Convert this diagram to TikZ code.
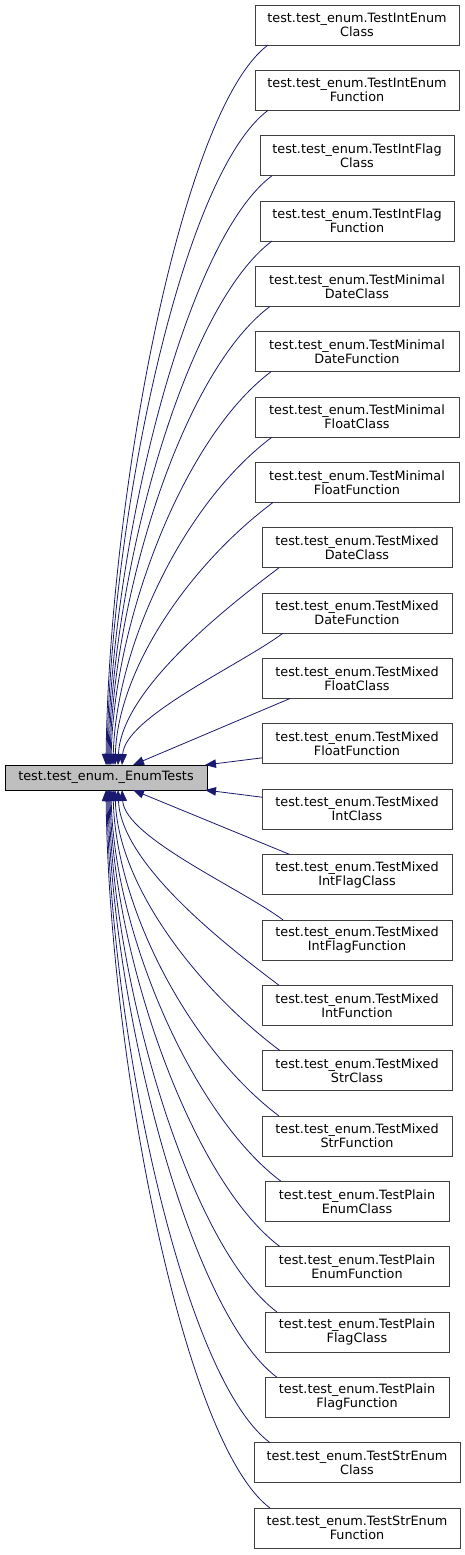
\documentclass[tikz,border=0pt]{standalone}
\usepackage{fontspec}
\setmainfont{DejaVu Sans}
\usepackage{xcolor}
\usetikzlibrary{arrows.meta,positioning,calc}
\definecolor{edgeblue}{HTML}{191970}
\definecolor{boxline}{HTML}{404040}
\definecolor{basefill}{HTML}{BFBFBF}

\begin{document}
\begin{tikzpicture}[
  x=1pt, y=-1pt,
  font=\fontsize{12.8}{14}\selectfont,
  node distance=25.35pt,
  box/.style={draw=boxline, line width=0.8pt, align=center, inner sep=2pt, outer sep=0pt, minimum height=40pt},
  cls/.style={box, minimum width=#1},
  base/.style={draw=black, line width=0.8pt, fill=basefill, inner sep=2pt, outer sep=0pt, minimum width=202pt, minimum height=25pt},
  inh/.style={draw=edgeblue, line width=0.8pt, -{Triangle[length=11pt,width=8.5pt]}},
]
\useasboundingbox (0,0) rectangle (465,1555);

\node[base] (enumtests) at (106,777.5) {test.test\_enum.\_EnumTests};

\node[cls=204pt] (r1) at (357,25) {test.test\_enum.TestIntEnum\\Class};
\node[cls=204pt, below=of r1] (r2) {test.test\_enum.TestIntEnum\\Function};
\node[cls=194pt, below=of r2] (r3) {test.test\_enum.TestIntFlag\\Class};
\node[cls=194pt, below=of r3] (r4) {test.test\_enum.TestIntFlag\\Function};
\node[cls=204pt, below=of r4] (r5) {test.test\_enum.TestMinimal\\DateClass};
\node[cls=204pt, below=of r5] (r6) {test.test\_enum.TestMinimal\\DateFunction};
\node[cls=204pt, below=of r6] (r7) {test.test\_enum.TestMinimal\\FloatClass};
\node[cls=204pt, below=of r7] (r8) {test.test\_enum.TestMinimal\\FloatFunction};
\node[cls=190pt, below=of r8] (r9) {test.test\_enum.TestMixed\\DateClass};
\node[cls=190pt, below=of r9] (r10) {test.test\_enum.TestMixed\\DateFunction};
\node[cls=190pt, below=of r10] (r11) {test.test\_enum.TestMixed\\FloatClass};
\node[cls=190pt, below=of r11] (r12) {test.test\_enum.TestMixed\\FloatFunction};
\node[cls=190pt, below=of r12] (r13) {test.test\_enum.TestMixed\\IntClass};
\node[cls=190pt, below=of r13] (r14) {test.test\_enum.TestMixed\\IntFlagClass};
\node[cls=190pt, below=of r14] (r15) {test.test\_enum.TestMixed\\IntFlagFunction};
\node[cls=190pt, below=of r15] (r16) {test.test\_enum.TestMixed\\IntFunction};
\node[cls=190pt, below=of r16] (r17) {test.test\_enum.TestMixed\\StrClass};
\node[cls=190pt, below=of r17] (r18) {test.test\_enum.TestMixed\\StrFunction};
\node[cls=184pt, below=of r18] (r19) {test.test\_enum.TestPlain\\EnumClass};
\node[cls=184pt, below=of r19] (r20) {test.test\_enum.TestPlain\\EnumFunction};
\node[cls=184pt, below=of r20] (r21) {test.test\_enum.TestPlain\\FlagClass};
\node[cls=184pt, below=of r21] (r22) {test.test\_enum.TestPlain\\FlagFunction};
\node[cls=206pt, below=of r22] (r23) {test.test\_enum.TestStrEnum\\Class};
\node[cls=206pt, below=of r23] (r24) {test.test\_enum.TestStrEnum\\Function};

\foreach \i/\sx/\xe in {1/13/101, 2/13/102, 3/12/103, 4/12/104, 5/15/105,
                        6/16/106, 7/17/108, 8/18/110, 9/17/113, 10/21/117}
  \draw[inh] let \p1=($(r\i.south west)+(\sx,0)$), \p2=($(enumtests.north west)+(\xe,0)$),
    \n1={min(88,0.32*(\y1-\y2))}, \n2={0.365*(\y1-\y2)} in
    (\p1) .. controls ({\x1-\n1*1pt},{\y1-0.75*\n1*1pt}) and ({\x2+3pt},{\y2+\n2*1pt}) .. (\p2);

\foreach \i/\sx/\xe in {24/16/101, 23/16/102, 22/12/103, 21/12/104, 20/15/105,
                        19/16/106, 18/17/108, 17/18/110, 16/17/113, 15/21/117}
  \draw[inh] let \p1=($(r\i.north west)+(\sx,0)$), \p2=($(enumtests.south west)+(\xe,0)$),
    \n1={min(88,0.32*(\y2-\y1))}, \n2={0.365*(\y2-\y1)} in
    (\p1) .. controls ({\x1-\n1*1pt},{\y1+0.75*\n1*1pt}) and ({\x2+3pt},{\y2-\n2*1pt}) .. (\p2);

\draw[inh] ($(r11.south west)+(28,0)$) -- ($(enumtests.north west)+(128,0)$);
\draw[inh] ($(r12.west)+(0,14)$) -- ($(enumtests.north east)+(-2,0)$);
\draw[inh] ($(r13.west)+(0,-12)$) -- ($(enumtests.south east)+(-2,0)$);
\draw[inh] ($(r14.north west)+(28,0)$) -- ($(enumtests.south west)+(128,0)$);
\end{tikzpicture}
\end{document}
